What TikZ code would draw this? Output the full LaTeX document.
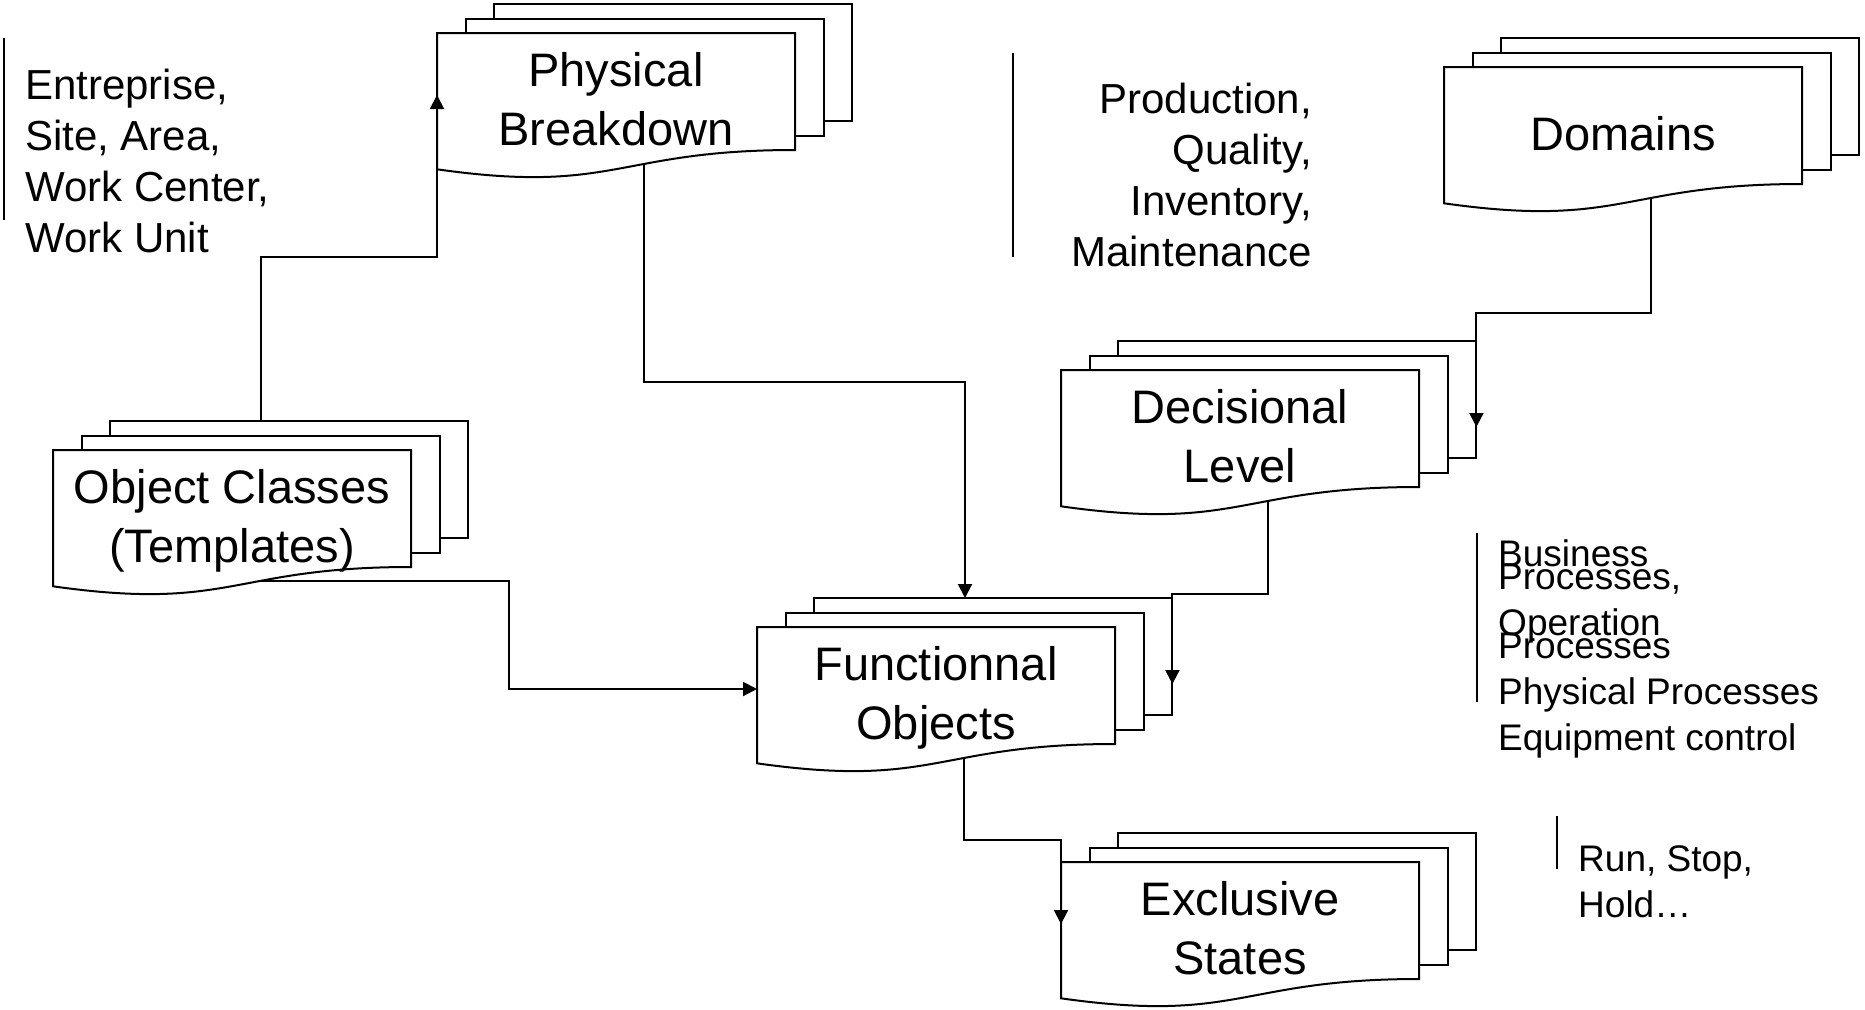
\documentclass[tikz,border=0pt]{standalone}
\usepackage{fontspec}
\setmainfont{Liberation Sans}
\usetikzlibrary{arrows.meta}
\usetikzlibrary{backgrounds}
\tikzset {
  sheet line/.style = {
    draw = black,
    line width = 2pt
  },
  % connector with a filled head at its end
  arr/.style = {
    sheet line,
    -{Triangle[length = 14pt, width = 14pt]}
  },
  % plain bar beside a note
  bar/.style = {
    sheet line
  }
}
\tikzset {
  % label of a stack of documents
  doc/.style = {
    align = center,
    inner sep = 0,
    text depth = 0pt,
    font = \fontsize{47}{59}\selectfont
  },
  % side note
  note/.style = {
    inner sep = 0,
    text depth = 0pt,
    font = \fontsize{42}{51}\selectfont
  },
  small note/.style = {
    note,
    font = {\fontsize{37}{23}\selectfont\lineskiplimit -100pt}
  },
  state note/.style = {
    note,
    font = \fontsize{37}{46}\selectfont
  }
}

% three sheets behind a doc node, in px (y down) from its centre
\newcommand{\docstack}[1]{
  \begin{scope}[shift = {(#1.center)}]
    \foreach \k in {2,1} {
      \filldraw[sheet line, fill = white]
        (-179 + \k*28.7, -66 - \k*14.5) rectangle ++(358, 117);
    }
    \filldraw[sheet line, fill = white]
      (-179, -66) -- (179, -66) -- (179, 51)
      .. controls (0, 51) and (0, 95.7) .. (-179, 70.3) -- cycle;
    \coordinate (#1-out) at (28, 65);
    \coordinate (#1-top) at (29, -95);
    \coordinate (#1-w) at (-179, -4);
    \coordinate (#1-e) at (236.4, -9);
  \end{scope}
}

\begin{document}
\begin{tikzpicture}[x = 1pt, y = -1pt]
  \useasboundingbox (0, 0) rectangle (1865, 1009);

  \node[doc] (phys) at (616, 99) {Physical\\Breakdown};
  \node[doc] (dom) at (1623, 133) {Domains};
  \node[doc] (ocls) at (232, 516) {Object Classes\\(Templates)};
  \node[doc] (dec) at (1240, 436) {Decisional\\Level};
  \node[doc] (func) at (936, 693) {Functionnal\\Objects};
  \node[doc] (excl) at (1240, 928) {Exclusive\\States};

  \begin{pgfonlayer}{background}
    \foreach \d in {phys, dom, ocls, dec, func, excl} {
      \docstack{\d}
    }
  \end{pgfonlayer}

  \node[note, anchor = south west, align = left] (levels) at (25, 253)
    {Entreprise,\\Site, Area,\\Work Center,\\Work Unit};
  \node[note, anchor = south east, align = right] (areas) at (1312, 267)
    {Production,\\Quality,\\Inventory,\\Maintenance};
  \node[small note, anchor = south west, align = left] (procs) at (1498, 751)
    {Business\\Processes,\\[23pt]Operation\\Processes\\[23pt]Physical Processes\\[23pt]Equipment control};
  \node[state note, anchor = south west, align = left] (states) at (1578, 918)
    {Run, Stop,\\Hold…};

  \draw[bar] (4, 38) -- (4, 220);
  \draw[bar] (1013, 53) -- (1013, 257);
  \draw[bar] (1477, 533) -- (1477, 702);
  \draw[bar] (1557, 816) -- (1557, 869);

  \draw[arr] (ocls-top) -- ++(0, -164) -| (phys-w);
  \draw[arr] (phys-out) -- ++(0, 218) -| (func-top);
  \draw[arr] (ocls-out) -- ++(249, 0) |- (func-w);
  \draw[arr] (dom-out) -- ++(0, 115) -| (dec-e);
  \draw[arr] (dec-out) -- ++(0, 93) -| (func-e);
  \draw[arr] (func-out) -- ++(0, 82) -| (excl-w);
\end{tikzpicture}
\end{document}
